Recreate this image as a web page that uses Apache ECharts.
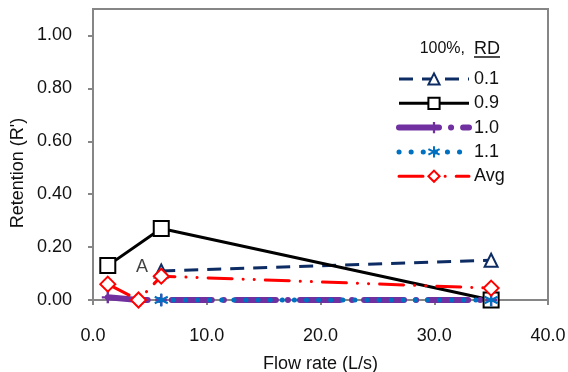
<!DOCTYPE html>
<html>
<head>
<meta charset="utf-8">
<script src="https://cdn.jsdelivr.net/npm/echarts@6/dist/echarts.min.js"></script>
<style>
  html, body { margin: 0; padding: 0; background: #fff; }
  #chart { width: 568px; height: 372px; }
</style>
</head>
<body>
<div id="chart"></div>
<script>
// values (x = flow rate L/s, y = retention R')
const rd01 = [[6, 0.11], [35, 0.15]];
const rd09 = [[1.3, 0.13], [6, 0.27], [35, 0.0]];
const rd10 = [[1.3, 0.01], [4, 0.0], [6, 0.0], [35, 0.0]];
const rd11 = [[6, 0.0], [35, 0.0]];
const rdAvg = [[1.3, 0.06], [4, 0.0], [6, 0.09], [35, 0.045]];
const seriesNames = ['0.1', '0.9', '1.0', '1.1', 'Avg'];
const annotation = [[4.3, 0.125]];
const yTicks = [0, 0.2, 0.4, 0.6, 0.8, 1.0];

const FONT = 'Liberation Sans, Arial, sans-serif';
const AXIS_GREY = '#868686';

const plusPath = 'path://M4,0H6V4H10V6H6V10H4V6H0V4H4Z';
const starPath = 'path://M5,0V10M0.67,2.5L9.33,7.5M0.67,7.5L9.33,2.5';

// line styles shared by the series and their legend samples
const styles = {
  '0.1': { color: '#0e2c64', width: 3, type: [14, 9] },
  '0.9': { color: '#000', width: 3, type: 'solid' },
  '1.0': { color: '#7030a0', width: 6, type: [40, 12, 0.1, 12], cap: 'round' },
  '1.1': { color: '#0070c0', width: 5, type: [0.1, 12], cap: 'round' },
  'Avg': { color: '#ff0000', width: 3, type: [24, 11, 0.1, 11, 0.1, 11], cap: 'round' }
};

const chart = echarts.init(document.getElementById('chart'), null, { renderer: 'canvas' });

chart.setOption({
  animation: false,
  textStyle: { fontFamily: FONT },
  grid: {
    left: 93, right: 20, top: 9, bottom: 72,
    outerBoundsMode: 'none',
    show: true, borderColor: AXIS_GREY, borderWidth: 2, backgroundColor: 'transparent'
  },
  legend: {
    data: seriesNames.map(n => ({ name: n, lineStyle: styles[n] })),
    orient: 'vertical',
    left: 396,
    top: 70,
    padding: 0,
    itemWidth: 70,
    itemHeight: 14,
    itemGap: 6.3,
    textStyle: { fontSize: 18, color: '#111', fontFamily: FONT }
  },
  xAxis: {
    type: 'value',
    min: 0, max: 40, interval: 10,
    name: 'Flow rate (L/s)',
    nameLocation: 'middle',
    nameGap: 55,
    nameTextStyle: { fontSize: 18, color: '#111' },
    axisLine: { lineStyle: { color: AXIS_GREY, width: 2 } },
    axisTick: { show: true, length: 5, lineStyle: { color: AXIS_GREY, width: 2 } },
    axisLabel: { fontSize: 18, color: '#111', margin: 27, formatter: v => v.toFixed(1) },
    splitLine: { show: false }
  },
  yAxis: {
    type: 'value',
    min: 0, max: 1.1,
    axisLine: { show: true, lineStyle: { color: AXIS_GREY, width: 2 } },
    axisTick: { show: true, length: 5, customValues: yTicks, lineStyle: { color: AXIS_GREY, width: 2 } },
    axisLabel: { fontSize: 18, color: '#111', margin: 21, customValues: yTicks, formatter: v => v.toFixed(2) },
    splitLine: { show: false }
  },
  graphic: [
    {
      type: 'text', x: 18, y: 173, rotation: Math.PI / 2,
      style: { text: "Retention (R')", font: '18px ' + FONT, fill: '#111', align: 'center', verticalAlign: 'middle' }
    },
    {
      type: 'text', x: 465, y: 49,
      style: { text: '100%,', font: '16px ' + FONT, fill: '#111', align: 'right', verticalAlign: 'middle' }
    },
    {
      type: 'text', x: 474, y: 49,
      style: { text: 'RD', font: '18px ' + FONT, fill: '#111', align: 'left', verticalAlign: 'middle' }
    },
    {
      type: 'line', shape: { x1: 474, y1: 57, x2: 500, y2: 57 },
      style: { stroke: '#111', lineWidth: 1.5 }
    }
  ],
  series: [
    {
      name: '0.1', type: 'line', data: rd01, clip: false,
      symbol: 'emptyTriangle', symbolSize: 13,
      itemStyle: { color: '#0e2c64', borderColor: '#0e2c64', borderWidth: 1.5 },
      lineStyle: styles['0.1']
    },
    {
      name: '0.9', type: 'line', data: rd09, clip: false,
      symbol: 'emptyRect', symbolSize: 15,
      itemStyle: { color: '#000', borderColor: '#000', borderWidth: 1.5 },
      lineStyle: styles['0.9']
    },
    {
      name: '1.0', type: 'line', data: rd10, clip: false,
      symbol: plusPath, symbolSize: 12,
      itemStyle: { color: '#7030a0', borderWidth: 0 },
      lineStyle: styles['1.0']
    },
    {
      name: '1.1', type: 'line', data: rd11, clip: false,
      symbol: starPath, symbolSize: 13,
      itemStyle: { color: '#0070c0', borderColor: '#0070c0', borderWidth: 2 },
      lineStyle: styles['1.1']
    },
    {
      name: 'Avg', type: 'line', data: rdAvg, clip: false,
      symbol: 'emptyDiamond', symbolSize: 15,
      itemStyle: { color: '#ff0000', borderColor: '#ff0000', borderWidth: 1.5 },
      lineStyle: styles['Avg']
    },
    {
      name: 'annotation', type: 'scatter', data: annotation,
      symbolSize: 1, itemStyle: { color: 'transparent' },
      label: { show: true, position: 'inside', formatter: 'A', fontSize: 18, color: '#111', fontFamily: FONT },
      silent: true
    }
  ]
});
</script>
</body>
</html>
